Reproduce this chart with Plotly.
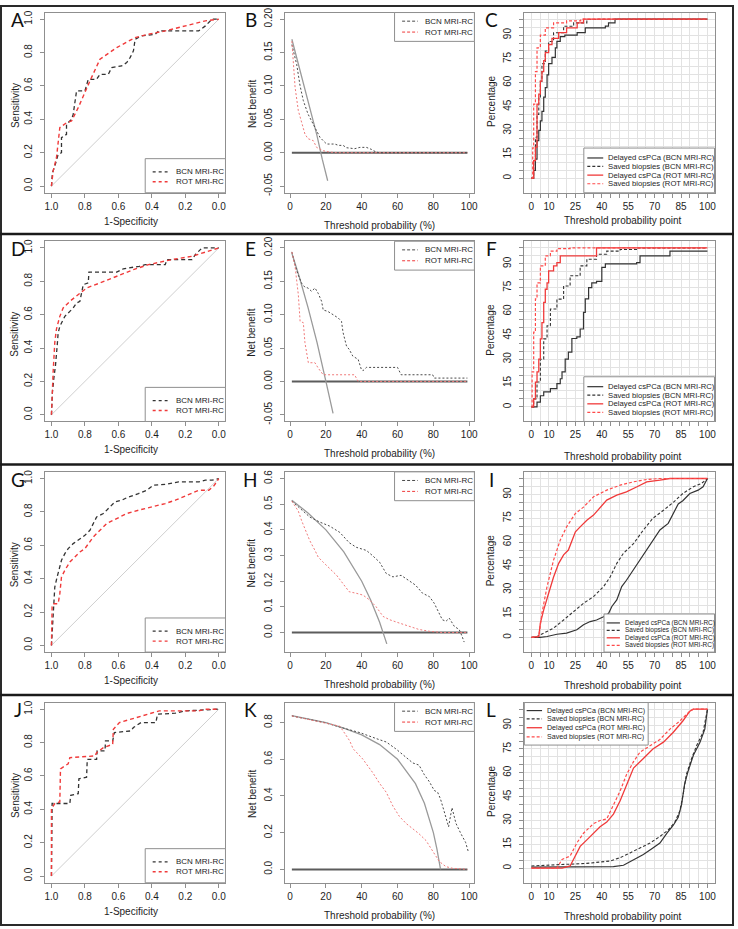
import plotly.graph_objects as go

# ======================= DATA =======================
# Panel A - ROC
A_bcn_spec = [1.0, 0.994, 0.98, 0.96, 0.94, 0.94, 0.91, 0.91, 0.88, 0.87, 0.85, 0.80, 0.78, 0.73, 0.71, 0.66, 0.64, 0.58, 0.55, 0.53, 0.51, 0.50, 0.46, 0.38, 0.36, 0.12, 0.08, 0.04, 0.0]
A_bcn_sens = [0.0, 0.08, 0.12, 0.19, 0.20, 0.29, 0.31, 0.37, 0.40, 0.43, 0.57, 0.57, 0.64, 0.64, 0.67, 0.67, 0.71, 0.72, 0.74, 0.77, 0.81, 0.88, 0.90, 0.91, 0.93, 0.93, 0.96, 1.0, 1.0]
A_rot_spec = [1.0, 0.99, 0.97, 0.95, 0.91, 0.88, 0.84, 0.81, 0.77, 0.71, 0.61, 0.50, 0.42, 0.32, 0.20, 0.08, 0.0]
A_rot_sens = [0.0, 0.09, 0.17, 0.35, 0.38, 0.39, 0.47, 0.54, 0.63, 0.76, 0.83, 0.89, 0.91, 0.93, 0.96, 0.99, 1.0]

# Panel B - decision curves
B_all_thr = [1, 5, 10, 15, 18, 21]
B_all_nb = [0.170, 0.128, 0.080, 0.026, -0.010, -0.042]
B_bcn_thr = [1, 3.7, 5.6, 7.4, 10, 13, 15, 16.7, 18.5, 20.4, 25, 27, 29.6, 31.5, 36, 39, 42.6, 45.4, 48, 50, 99]
B_bcn_nb = [0.162, 0.132, 0.10, 0.078, 0.058, 0.043, 0.031, 0.023, 0.018, 0.013, 0.013, 0.011, 0.011, 0.0075, 0.006, 0.008, 0.008, 0.005, 0.001, 0.0, 0.0]
B_rot_thr = [1, 1.9, 2.8, 4.6, 6.5, 8.3, 10, 13, 14.8, 18.5, 22, 26, 99]
B_rot_nb = [0.167, 0.137, 0.098, 0.063, 0.043, 0.028, 0.021, 0.018, 0.008, 0.003, 0.001, 0.0, 0.0]

# Panel C - percentages
C_bcn_del_x = [0, 1.3, 2.3, 3.2, 4.2, 5.1, 6, 7, 7.9, 8.9, 9.8, 11.7, 13.6, 14.5, 16.4, 19, 26, 30.6, 42, 43.8, 47.5, 100]
C_bcn_del_y = [0, 4.8, 12, 23.6, 30, 36, 42, 51, 57, 65, 72, 76, 82, 86, 89, 90, 91.5, 94.6, 95.6, 97.7, 100, 100]
C_bcn_sav_x = [0, 1.3, 2.3, 3.2, 4.2, 5.1, 6, 7.9, 9.8, 12.6, 18.3, 24, 31.5, 37, 100]
C_bcn_sav_y = [0, 11, 25.7, 40, 51, 61, 72, 80, 86, 91.5, 95.6, 97.7, 99.8, 100, 100]
C_rot_del_x = [0, 1.3, 2.3, 3.2, 4.2, 5.1, 6, 7, 7.9, 9.8, 11.7, 15.5, 20, 26, 29.6, 100]
C_rot_del_y = [0, 11, 19.5, 46.6, 52.8, 61, 67, 74, 79, 84, 88, 91.5, 94.6, 97.7, 100, 100]
C_rot_sav_x = [0, 0.75, 1.3, 2.3, 3.2, 5.1, 7.9, 12.6, 20, 28, 100]
C_rot_sav_y = [0, 19, 46.6, 67, 82, 90, 94.6, 97.7, 99, 100, 100]

# Panel D - ROC
D_bcn_spec = [1.0, 0.994, 0.986, 0.976, 0.966, 0.96, 0.95, 0.93, 0.92, 0.89, 0.87, 0.85, 0.83, 0.82, 0.81, 0.78, 0.776, 0.61, 0.57, 0.475, 0.44, 0.32, 0.31, 0.16, 0.14, 0.10, 0.0]
D_bcn_sens = [0.0, 0.137, 0.216, 0.295, 0.41, 0.49, 0.53, 0.57, 0.59, 0.62, 0.64, 0.67, 0.68, 0.73, 0.78, 0.79, 0.855, 0.855, 0.875, 0.89, 0.90, 0.90, 0.93, 0.93, 0.96, 1.0, 1.0]
D_rot_spec = [1.0, 0.996, 0.99, 0.98, 0.97, 0.95, 0.93, 0.89, 0.85, 0.79, 0.71, 0.61, 0.51, 0.42, 0.28, 0.16, 0.06, 0.0]
D_rot_sens = [0.0, 0.177, 0.256, 0.434, 0.514, 0.59, 0.64, 0.68, 0.71, 0.76, 0.79, 0.83, 0.87, 0.90, 0.93, 0.95, 0.98, 1.0]

# Panel E - decision curves
E_all_thr = [1, 5, 10, 15, 20, 24]
E_all_nb = [0.192, 0.158, 0.111, 0.059, 0.0, -0.048]
E_bcn_thr = [1, 2.8, 4.6, 6.5, 8.3, 10, 12, 13.9, 15.7, 17.6, 18.5, 21, 24, 26.9, 28.7, 29.6, 31.5, 33, 35, 38, 39.8, 40.7, 42.6, 60, 62, 79.6, 80.5, 99]
E_bcn_nb = [0.194, 0.174, 0.159, 0.147, 0.141, 0.14, 0.135, 0.14, 0.132, 0.12, 0.107, 0.105, 0.1, 0.095, 0.09, 0.073, 0.053, 0.048, 0.038, 0.033, 0.018, 0.016, 0.021, 0.021, 0.01, 0.01, 0.005, 0.005]
E_rot_thr = [1, 2.8, 4.6, 5.6, 7.4, 8.3, 10.2, 13.9, 15.7, 18.5, 36, 38, 99]
E_rot_nb = [0.194, 0.172, 0.13, 0.09, 0.088, 0.058, 0.028, 0.028, 0.02, 0.01, 0.01, 0.0, 0.0]

# Panel F - percentages
F_bcn_del_x = [0, 2.3, 3.2, 5.1, 7, 10.8, 14.5, 16.4, 17.4, 19.2, 21, 23, 25.8, 27.7, 29.6, 30.6, 32.5, 34.3, 37, 40, 42, 59.8, 61.7, 76.8, 78.7, 100]
F_bcn_del_y = [0, 0, 3, 7, 9.4, 11.5, 14.6, 17.7, 22, 30, 34.5, 43, 44, 49, 59.5, 68, 75, 78, 79, 87.7, 90, 90.8, 95, 95, 98, 98]
F_bcn_sav_x = [0, 1.3, 3.2, 5.1, 7, 8.9, 10.8, 14.5, 18.3, 22, 27.7, 31.5, 37, 42.8, 50.4, 60, 100]
F_bcn_sav_y = [0, 5, 15.6, 30, 42.8, 51, 61.6, 67.8, 76, 82.5, 88.7, 92.9, 96, 98, 99, 100, 100]
F_rot_del_x = [0, 1.3, 2.3, 3.2, 4.2, 5.1, 6, 7, 7.9, 8.9, 9.8, 12.6, 14.5, 16.4, 35.3, 37, 100]
F_rot_del_y = [0, 5, 15.6, 22, 30, 42.8, 53, 65.8, 74, 78, 85.6, 88.7, 90.8, 95, 95, 100, 100]
F_rot_sav_x = [0, 0.4, 1.3, 2.3, 3.2, 5.1, 7.9, 10.8, 14.5, 22, 100]
F_rot_sav_y = [0, 22, 47, 68, 78, 88.7, 95, 98, 99.6, 100, 100]

# Panel G - ROC
G_bcn_spec = [1.0, 0.99, 0.98, 0.966, 0.954, 0.94, 0.92, 0.90, 0.87, 0.83, 0.80, 0.77, 0.75, 0.73, 0.69, 0.65, 0.62, 0.58, 0.55, 0.48, 0.43, 0.39, 0.32, 0.24, 0.12, 0.08, 0.04, 0.0]
G_bcn_sens = [0.0, 0.174, 0.35, 0.41, 0.45, 0.51, 0.55, 0.58, 0.61, 0.64, 0.66, 0.69, 0.73, 0.77, 0.79, 0.83, 0.86, 0.87, 0.885, 0.91, 0.93, 0.96, 0.965, 0.98, 0.98, 0.99, 0.99, 1.0]
G_rot_spec = [1.0, 0.996, 0.99, 0.96, 0.95, 0.94, 0.92, 0.89, 0.86, 0.83, 0.80, 0.78, 0.75, 0.71, 0.67, 0.61, 0.55, 0.48, 0.40, 0.32, 0.26, 0.20, 0.16, 0.12, 0.06, 0.03, 0.0]
G_rot_sens = [0.0, 0.233, 0.25, 0.25, 0.31, 0.41, 0.45, 0.50, 0.53, 0.56, 0.58, 0.61, 0.65, 0.69, 0.73, 0.76, 0.79, 0.81, 0.83, 0.85, 0.87, 0.895, 0.915, 0.93, 0.93, 0.955, 1.0]

# Panel H - decision curves
H_all_thr = [1, 10, 20, 30, 40, 45, 50, 54]
H_all_nb = [0.515, 0.466, 0.40, 0.314, 0.20, 0.127, 0.04, -0.044]
H_bcn_thr = [1, 11, 16.7, 22, 27.8, 33, 37, 42.6, 46, 50, 53.7, 57.4, 62, 65.7, 68.5, 70, 74, 77.8, 80.5, 83, 85, 87, 88.9, 91.7, 94.4, 96, 97.2]
H_bcn_nb = [0.512, 0.45, 0.43, 0.415, 0.39, 0.35, 0.332, 0.32, 0.30, 0.274, 0.23, 0.217, 0.223, 0.204, 0.19, 0.185, 0.153, 0.14, 0.114, 0.076, 0.05, 0.044, 0.056, 0.024, 0.012, -0.014, -0.037]
H_rot_thr = [1, 4.6, 6.5, 9.3, 11, 13.9, 15.7, 18.5, 22, 26, 29.6, 33, 37, 40.7, 44.4, 48, 51.9, 55.6, 61, 66.7, 72, 77.8, 85, 99]
H_rot_nb = [0.512, 0.473, 0.435, 0.383, 0.358, 0.32, 0.294, 0.274, 0.249, 0.223, 0.19, 0.159, 0.153, 0.146, 0.127, 0.101, 0.063, 0.05, 0.037, 0.024, 0.012, 0.005, 0.0, 0.0]

# Panel I - percentages
I_bcn_del_x = [0, 5, 8.9, 14.5, 20, 25.8, 29.6, 33.4, 37, 41, 43.8, 45.7, 48.5, 51.3, 54, 58, 61.7, 65.5, 69, 73, 77.7, 80.6, 83.4, 86, 90, 94.7, 97.5, 100]
I_bcn_del_y = [0, 0, 0.6, 2, 2.7, 4.8, 8, 10, 11, 13, 15, 19.5, 23.6, 32, 36, 42.5, 48.7, 55, 61, 67.6, 71.8, 78, 84, 86, 90.6, 92.7, 94.8, 100]
I_bcn_sav_x = [0, 3.2, 7, 12.6, 18.3, 24, 29.6, 35.3, 41, 44.7, 48.5, 52.3, 58, 63.6, 69, 75, 80.6, 86, 92, 96.6, 100]
I_bcn_sav_y = [0, 0.6, 2.7, 5.9, 11, 16.3, 21.5, 25.7, 32, 38, 46.6, 53, 59, 67.6, 75, 80, 85, 90.6, 94.8, 96.9, 100]
I_rot_del_x = [0, 4.2, 5.1, 7, 9.8, 12.6, 15.5, 18.3, 21, 23, 25, 27.7, 31.5, 35.3, 39, 42.8, 48.5, 54, 60, 65.5, 73, 78.7, 100]
I_rot_del_y = [0, 0.6, 9, 17.4, 27.8, 38, 46.6, 52, 55, 61, 66.5, 69.6, 73.8, 77, 82, 86.4, 89.5, 91.6, 94.8, 97.9, 99, 100, 100]
I_rot_sav_x = [0, 4.2, 6, 8.9, 12.6, 16.4, 20, 25, 29.6, 35.3, 42.8, 50.4, 57.9, 65.5, 73, 100]
I_rot_sav_y = [0, 0.6, 15.3, 32, 48.7, 61.3, 69.6, 78, 82, 88.5, 92.7, 95.8, 97.9, 99.4, 100, 100]

# Panel J - ROC
J_bcn_spec = [1.0, 0.996, 0.95, 0.89, 0.885, 0.84, 0.836, 0.79, 0.786, 0.73, 0.727, 0.68, 0.677, 0.634, 0.624, 0.525, 0.51, 0.465, 0.376, 0.366, 0.26, 0.2, 0.12, 0.0]
J_bcn_sens = [0.0, 0.435, 0.435, 0.435, 0.484, 0.494, 0.583, 0.593, 0.70, 0.70, 0.75, 0.75, 0.81, 0.81, 0.86, 0.87, 0.89, 0.92, 0.92, 0.97, 0.976, 0.99, 0.994, 1.0]
J_rot_spec = [1.0, 1.0, 0.98, 0.95, 0.946, 0.90, 0.89, 0.74, 0.73, 0.69, 0.634, 0.63, 0.594, 0.525, 0.455, 0.376, 0.356, 0.12, 0.08, 0.0]
J_rot_sens = [0.0, 0.405, 0.435, 0.444, 0.643, 0.673, 0.71, 0.72, 0.74, 0.77, 0.79, 0.88, 0.92, 0.94, 0.96, 0.98, 0.99, 0.99, 1.0, 1.0]

# Panel K - decision curves
K_all_thr = [1, 20, 30, 40, 50, 60, 70, 75, 80, 82, 84]
K_all_nb = [0.838, 0.80, 0.77, 0.733, 0.68, 0.60, 0.467, 0.36, 0.20, 0.11, 0.0]
K_bcn_thr = [1, 19.4, 29.6, 39, 48, 53.7, 59, 64.8, 68.5, 72, 75, 77.8, 80.5, 82.4, 84, 86, 88.5, 90.4, 92.6, 95.4, 98, 99.4]
K_bcn_nb = [0.836, 0.80, 0.77, 0.745, 0.713, 0.694, 0.657, 0.61, 0.58, 0.568, 0.515, 0.477, 0.43, 0.42, 0.383, 0.317, 0.232, 0.336, 0.251, 0.194, 0.147, 0.1]
K_rot_thr = [1, 19.4, 27.8, 30.6, 33.3, 35.2, 37.9, 40.7, 43.5, 46.3, 50, 53.7, 57.4, 61, 64.8, 68.5, 72, 75.9, 79.6, 83.3, 87, 90.7, 99]
K_rot_nb = [0.836, 0.80, 0.78, 0.74, 0.70, 0.657, 0.628, 0.60, 0.562, 0.525, 0.468, 0.42, 0.345, 0.289, 0.25, 0.223, 0.194, 0.157, 0.1, 0.043, 0.015, 0.006, 0.0]

# Panel L - percentages
L_bcn_del_x = [0, 22, 46.6, 52.3, 58, 63.6, 69, 73, 77, 80.6, 83.4, 85.3, 87, 89, 92, 95.7, 98.5, 100]
L_bcn_del_y = [0.6, 0.6, 1, 1.8, 5.5, 8.6, 12.7, 15.8, 22, 27, 32, 40, 52.7, 61, 71, 79, 87.5, 100]
L_bcn_sav_x = [0, 12.6, 31.5, 44.7, 50.4, 56, 61.7, 67.4, 73, 77.7, 81.5, 84.3, 86.2, 88, 91, 93.8, 97.5, 100]
L_bcn_sav_y = [1.4, 2, 3, 4.5, 6.6, 9.6, 12.7, 15.8, 19.9, 24, 29, 36, 46.5, 58.8, 69, 77, 85.5, 100]
L_rot_del_x = [0, 17.4, 22, 25, 27.7, 31.5, 35.3, 39, 42.8, 46.6, 50.4, 54, 58, 63.6, 69, 75, 80.6, 86, 90, 91.9, 100]
L_rot_del_y = [0, 0, 1.4, 7.6, 13.7, 17.8, 22, 26, 29, 34, 42.4, 52.7, 63, 69, 75, 79.3, 85.5, 92.6, 98.8, 100, 100]
L_rot_sav_x = [0, 14.5, 17.4, 22, 25.8, 29.6, 35.3, 39, 42.8, 46.6, 50.4, 54, 58, 61.7, 67.4, 73, 78.7, 84.3, 90, 92, 100]
L_rot_sav_y = [0, 0, 5.5, 7.6, 15.8, 22, 28, 30, 31, 40, 48.6, 58.8, 67, 73, 77, 81, 87.5, 92.6, 98.8, 100, 100]

# Reference lines
ROC_DIAG_SPEC = [1.0, 0.0]
ROC_DIAG_SENS = [0.0, 1.0]
NONE_THR = [1, 99]
NONE_NB = [0, 0]

# Tick labels
ROC_TICKS = [0.0, 0.2, 0.4, 0.6, 0.8, 1.0]
ROC_TICKTEXT = ["0.0", "0.2", "0.4", "0.6", "0.8", "1.0"]
DCA_XTICKS = [0, 20, 40, 60, 80, 100]
DCA_YTICKS = [
    ([-0.05, 0.0, 0.05, 0.10, 0.15, 0.20], ["-0.05", "0.00", "0.05", "0.10", "0.15", "0.20"]),
    ([-0.05, 0.0, 0.05, 0.10, 0.15, 0.20], ["-0.05", "0.00", "0.05", "0.10", "0.15", "0.20"]),
    ([0.0, 0.1, 0.2, 0.3, 0.4, 0.5, 0.6], ["0.0", "0.1", "0.2", "0.3", "0.4", "0.5", "0.6"]),
    ([0.0, 0.2, 0.4, 0.6, 0.8], ["0.0", "0.2", "0.4", "0.6", "0.8"]),
]
PCT_TICKS = list(range(0, 101, 5))
PCT_XLABELED = [0, 10, 25, 40, 55, 70, 85, 100]
PCT_YLABELED = [0, 15, 30, 45, 60, 75, 90]

LEG_ROC = ["BCN MRI-RC", "ROT MRI-RC"]
LEG_PCT = ["Delayed csPCa (BCN MRI-RC)", "Saved biopsies (BCN MRI-RC)",
           "Delayed csPCa (ROT MRI-RC)", "Saved biopsies (ROT MRI-RC)"]
PANEL_LETTERS = ["A", "B", "C", "D", "E", "F", "G", "H", "I", "J", "K", "L"]

# ======================= LAYOUT GEOMETRY (pixels) =======================
W, H = 738, 929
ROW_OFF = [0.0, 230.7, 463.3, 696.0]
BOX_Y = (7.6, 189.4)
ROC_BOX_X = (45.0, 226.7)
DCA_BOX_X = (286.4, 477.0)
PCT_BOX_X = (527.2, 718.4)
DCA_YRANGE = [[-0.06, 0.21], [-0.06, 0.21], [-0.076, 0.626], [-0.073, 0.909]]
PCT_TITLE_Y = [217.0, 224.5, 223.0, 223.0]

FONT = "Liberation Sans, Arial, sans-serif"
AXC = "#8f8f8f"
TXT = "#1e1e1e"
BLK = "#333333"
RED = "#f03a3a"
PINK = "#f07a7a"
DGR = "#4a4a4a"
GRID = "#e2e2e2"

layout = dict(width=W, height=H, margin=dict(l=0, r=0, t=0, b=0),
              paper_bgcolor="white", plot_bgcolor="white", showlegend=False,
              shapes=[], annotations=[])
traces = []


def fx(p):
    return p / W


def fy(p):
    return 1 - p / H


count = [0]


def add_axes(box_x, row, xr, yr, xt, xtt, yt, ytt, grid=False):
    count[0] += 1
    k = count[0]
    s = "" if k == 1 else str(k)
    off = ROW_OFF[row]
    y0, y1 = off + BOX_Y[0], off + BOX_Y[1]
    common = dict(showline=True, mirror=True, linecolor=AXC, linewidth=1,
                  ticks="outside", ticklen=4, tickcolor=AXC, tickwidth=1,
                  zeroline=False, showgrid=grid, gridcolor=GRID, gridwidth=0.8,
                  tickfont=dict(family=FONT, size=10, color=TXT),
                  fixedrange=True, tickmode="array")
    layout["xaxis" + s] = dict(domain=[fx(box_x[0]), fx(box_x[1])], range=xr,
                               anchor="y" + s, tickvals=xt, ticktext=xtt,
                               ticklabelstandoff=0, **common)
    layout["yaxis" + s] = dict(domain=[fy(y1), fy(y0)], range=yr, anchor="x" + s,
                               tickvals=yt, ticktext=ytt, tickangle=-90,
                               ticklabelstandoff=4, **common)
    return "x" + s, "y" + s


def line(x, y, xa, ya, color, width, dash="solid", shape="linear"):
    traces.append(go.Scatter(x=x, y=y, xaxis=xa, yaxis=ya, mode="lines",
                             line=dict(color=color, width=width, dash=dash, shape=shape),
                             hoverinfo="skip"))


def text(x, y, s, size=10, angle=0, anchor="center", family=FONT, color=TXT):
    layout["annotations"].append(dict(x=fx(x), y=fy(y), xref="paper", yref="paper",
                                      text=s, showarrow=False, textangle=angle,
                                      xanchor=anchor, yanchor="middle",
                                      font=dict(family=family, size=size, color=color)))


def seg(x0, x1, y, color, width, dash):
    layout["shapes"].append(dict(type="line", xref="paper", yref="paper",
                                 x0=fx(x0), x1=fx(x1), y0=fy(y), y1=fy(y),
                                 line=dict(color=color, width=width, dash=dash)))


def legend(row, box, entries, kx, tx, ys, size):
    off = ROW_OFF[row]
    layout["shapes"].append(dict(type="rect", xref="paper", yref="paper",
                                 x0=fx(box[0]), x1=fx(box[2]), y0=fy(off + box[3]), y1=fy(off + box[1]),
                                 line=dict(color=AXC, width=1), fillcolor="white"))
    for (lab, col, wid, dash), yy in zip(entries, ys):
        seg(kx[0], kx[1], off + yy, col, wid, dash)
        text(tx, off + yy, lab, size=size, anchor="left")


pct_xt = [str(v) if v in PCT_XLABELED else "" for v in PCT_TICKS]
pct_yt = [str(v) if v in PCT_YLABELED else "" for v in PCT_TICKS]

roc_data = [(A_bcn_spec, A_bcn_sens, A_rot_spec, A_rot_sens),
            (D_bcn_spec, D_bcn_sens, D_rot_spec, D_rot_sens),
            (G_bcn_spec, G_bcn_sens, G_rot_spec, G_rot_sens),
            (J_bcn_spec, J_bcn_sens, J_rot_spec, J_rot_sens)]
dca_data = [(B_all_thr, B_all_nb, B_bcn_thr, B_bcn_nb, B_rot_thr, B_rot_nb),
            (E_all_thr, E_all_nb, E_bcn_thr, E_bcn_nb, E_rot_thr, E_rot_nb),
            (H_all_thr, H_all_nb, H_bcn_thr, H_bcn_nb, H_rot_thr, H_rot_nb),
            (K_all_thr, K_all_nb, K_bcn_thr, K_bcn_nb, K_rot_thr, K_rot_nb)]
pct_data = [(C_bcn_del_x, C_bcn_del_y, C_bcn_sav_x, C_bcn_sav_y, C_rot_del_x, C_rot_del_y, C_rot_sav_x, C_rot_sav_y),
            (F_bcn_del_x, F_bcn_del_y, F_bcn_sav_x, F_bcn_sav_y, F_rot_del_x, F_rot_del_y, F_rot_sav_x, F_rot_sav_y),
            (I_bcn_del_x, I_bcn_del_y, I_bcn_sav_x, I_bcn_sav_y, I_rot_del_x, I_rot_del_y, I_rot_sav_x, I_rot_sav_y),
            (L_bcn_del_x, L_bcn_del_y, L_bcn_sav_x, L_bcn_sav_y, L_rot_del_x, L_rot_del_y, L_rot_sav_x, L_rot_sav_y)]
pct_shape = ["hv", "hv", "linear", "linear"]

for r in range(4):
    off = ROW_OFF[r]
    # ---------------- ROC ----------------
    xa, ya = add_axes(ROC_BOX_X, r, [1.04, -0.04], [-0.04, 1.04],
                      ROC_TICKS, ROC_TICKTEXT, ROC_TICKS, ROC_TICKTEXT)
    bs, bn, rs, rn = roc_data[r]
    line(ROC_DIAG_SPEC, ROC_DIAG_SENS, xa, ya, "#cfcfcf", 1)
    line(bs, bn, xa, ya, BLK, 1.3, "4px,3px")
    line(rs, rn, xa, ya, RED, 1.4, "4px,3px")
    text(15, off + 101, "Sensitivity", angle=-90)
    text(132, off + 218, "1-Specificity")
    legend(r, (146, 155, ROC_BOX_X[1], BOX_Y[1]),
           [(LEG_ROC[0], BLK, 1.2, "3px,3px"), (LEG_ROC[1], RED, 1.3, "3px,3px")],
           (153.5, 168.5), 175, [168.3, 178.3], 8)

    # ---------------- DCA ----------------
    yt, ytt = DCA_YTICKS[r]
    xa, ya = add_axes(DCA_BOX_X, r, [-2.92, 102.92], DCA_YRANGE[r],
                      DCA_XTICKS, [str(v) for v in DCA_XTICKS], yt, ytt)
    at, an, bt, bnb, rt, rnb = dca_data[r]
    line(NONE_THR, NONE_NB, xa, ya, "#5c5c5c", 2)
    line(at, an, xa, ya, "#9a9a9a", 1.3)
    line(bt, bnb, xa, ya, DGR, 1, "2px,2px")
    line(rt, rnb, xa, ya, PINK, 1, "2px,2px")
    text(253.3, off + 99, "Net benefit", angle=-90)
    text(382, off + 222, "Threshold probability (%)")
    legend(r, (396.7, BOX_Y[0], DCA_BOX_X[1], 36.7),
           [(LEG_ROC[0], DGR, 1, "3px,2px"), (LEG_ROC[1], RED, 1, "3px,2px")],
           (404.3, 420), 425, [16.3, 27.3], 8)

    # ---------------- Percentages ----------------
    xa, ya = add_axes(PCT_BOX_X, r, [-4, 104], [-9.2, 104.2],
                      PCT_TICKS, pct_xt, PCT_TICKS, pct_yt, grid=True)
    d = pct_data[r]
    sh = pct_shape[r]
    line(d[0], d[1], xa, ya, BLK, 1.2, "solid", sh)
    line(d[2], d[3], xa, ya, BLK, 1.1, "3px,2px", sh)
    line(d[4], d[5], xa, ya, RED, 1.3, "solid", sh)
    line(d[6], d[7], xa, ya, "#ff4a4a", 1.2, "3px,2px", sh)
    text(493.5, off + 97, "Percentage", angle=-90)
    text(626, off + PCT_TITLE_Y[r], "Threshold probability point")
    ents = [(LEG_PCT[0], BLK, 1.2, "solid"), (LEG_PCT[1], BLK, 1.1, "3px,2px"),
            (LEG_PCT[2], RED, 1.3, "solid"), (LEG_PCT[3], "#ff4a4a", 1.2, "3px,2px")]
    if r in (0, 1):
        legend(r, (587, 144.3, PCT_BOX_X[1], BOX_Y[1]), ents, (590.5, 606.5), 609,
               [154.3, 162.8, 171.6, 180.3], 7.7)
    elif r == 2:
        legend(r, (607.3, 151, PCT_BOX_X[1], BOX_Y[1]), ents, (610, 623.3), 626.7,
               [160, 167.5, 175, 182.6], 6.5)
    else:
        legend(r, (PCT_BOX_X[0], BOX_Y[0], 651.7, 50.5), ents, (529.5, 545), 548.3,
               [15.7, 24.1, 33, 42.2], 7.1)

# Panel letters
letter_pos = [(18, 15), (252, 15), (494, 15)]
for r in range(4):
    for c in range(3):
        lx, ly = letter_pos[c]
        text(lx, ROW_OFF[r] + ly, PANEL_LETTERS[r * 3 + c], size=19,
             family="Lato, Open Sans, sans-serif", color="#111")

# Frame and row separators
layout["shapes"].append(dict(type="rect", xref="paper", yref="paper",
                             x0=fx(1), x1=fx(737), y0=fy(928), y1=fy(1),
                             line=dict(color="#2a2a2a", width=2)))
for yy in (231.0, 463.5, 696.0):
    layout["shapes"].append(dict(type="line", xref="paper", yref="paper",
                                 x0=0, x1=1, y0=fy(yy), y1=fy(yy),
                                 line=dict(color="#1a1a1a", width=2.5)))

fig = go.Figure(data=traces, layout=layout)
fig.write_html("out.html", config={"displayModeBar": False},
               post_script="document.body.style.margin='0';document.body.style.overflow='hidden';")
